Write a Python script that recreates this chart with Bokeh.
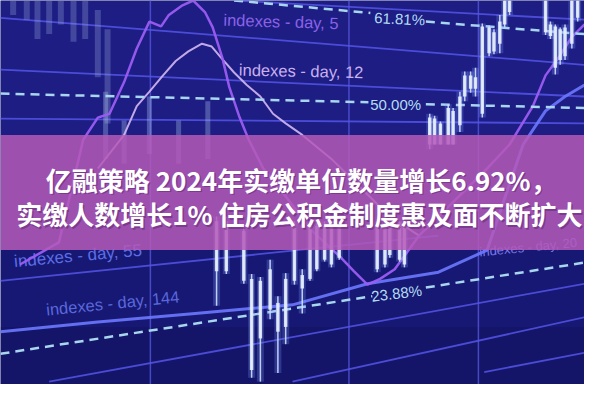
from bokeh.plotting import figure
from bokeh.models import Range1d
from bokeh.core.properties import value
from bokeh.embed import file_html
from bokeh.resources import INLINE

# ---------------- data (chart units: x 0..600, y 0..400 downward) ----------------
title_lines = ["亿融策略 2024年实缴单位数量增长6.92%，",
               "实缴人数增长1% 住房公积金制度惠及面不断扩大"]
title_x = [309, 307]
title_y = [186, 222]

# bright candles
c_x = [441, 446, 452, 460, 465, 472, 477, 483, 488, 495, 502, 507, 513, 518, 523,
       560, 565, 570, 575, 580, 587, 593,
       222, 232, 250, 258, 267, 277, 285, 293, 302, 310, 318, 325, 333, 340, 348,
       387, 395, 400, 410, 415]
c_body_top = [122, 123, 128, 112, 115, 100, 78, 78, 80, 27, 28, 33, 22, 0, 0,
              0, 25, 27, 30, 28, 0, 0,
              230, 230, 240, 290, 292, 280, 315, 290, 235, 286, 235, 235, 235, 235, 235,
              235, 235, 235, 235, 235]
c_body_bot = [150, 150, 150, 150, 150, 130, 100, 92, 92, 118, 55, 53, 45, 25, 12,
              33, 37, 70, 62, 58, 45, 18,
              282, 282, 292, 385, 352, 322, 345, 340, 292, 300, 290, 280, 270, 275, 268,
              280, 275, 265, 270, 275]
c_wick_top = [118, 120, 126, 108, 112, 95, 74, 74, 70, 24, 26, 30, 15, 0, 0,
              0, 22, 25, 28, 25, 0, 0,
              225, 225, 235, 285, 288, 270, 308, 284, 230, 280, 230, 232, 230, 230, 230,
              230, 230, 230, 230, 230]
c_wick_bot = [155, 150, 150, 150, 150, 137, 105, 96, 100, 122, 58, 56, 55, 28, 15,
              36, 40, 77, 67, 62, 50, 22,
              318, 285, 295, 393, 397, 332, 388, 358, 296, 326, 292, 282, 272, 278, 270,
              283, 278, 268, 272, 278]

# dim candles (left)
d_x = [108, 127, 153, 183, 213]
d_top = [95, 125, 100, 125, 105]
d_bot = [165, 170, 160, 170, 165]

# faded candles (top left)
f_x = [13, 27, 38, 50, 62, 75, 87, 100, 110]
f_top = [0, 0, 0, 0, 0, 0, 0, 10, 30]
f_bot = [15, 20, 40, 35, 25, 43, 40, 80, 128]

# moving-average curves
ma5_x = [20, 60, 85, 100, 112, 127, 140, 153, 165, 173, 187, 198, 210, 218, 228, 235,
         245, 255, 270, 290, 320, 350, 363, 377, 390, 405, 430, 460, 500, 523, 547, 560,
         573, 587, 600]
ma5_y = [275, 252, 145, 122, 118, 85, 50, 22, 27, 15, 5, 0, 12, 28, 60, 90,
         120, 145, 175, 200, 240, 268, 282, 296, 290, 280, 245, 215, 175, 150, 110, 78,
         60, 38, 25]
ma12_x = [100, 127, 140, 153, 167, 180, 193, 207, 217, 227, 240, 253, 267, 280, 293,
          310, 340, 370, 400, 430]
ma12_y = [175, 140, 110, 95, 78, 63, 53, 45, 48, 60, 75, 88, 100, 118, 128,
          140, 165, 195, 225, 245]
ma55_x = [0, 100, 200, 300, 377, 450, 500, 520, 537, 560, 580, 600]
ma55_y = [345, 335, 326, 317, 295, 283, 260, 200, 150, 115, 100, 88]

# thin straight guide lines
g_x0 = [240, 0, 0, 0, 0, 50, 300, 497]
g_y0 = [0, 18, 72, 123, 292, 397, 397, 387]
g_x1 = [600, 600, 600, 600, 450, 600, 600, 600]
g_y1 = [20, 67, 100, 128, 245, 295, 330, 367]

# vertical grid
v_x = [154, 358, 491]

# fibonacci levels (dashed pieces) and labels
fib_x0 = [240, 437, 0, 437, 0, 437]
fib_y0 = [0, 22, 97, 108, 368, 299]
fib_x1 = [380, 600, 378, 600, 382, 600]
fib_y1 = [13, 35, 106, 112, 308, 273]
fib_labels = ["61.81%", "50.00%", "23.88%"]
fib_lx = [410, 406, 407]
fib_ly = [19, 108, 305]
fib_angle = [-0.05, 0.0, 0.12]

# index labels
idx_labels = ["indexes - day, 5", "indexes - day, 12", "indexes - day, 55",
              "indexes - day, 144", "indexes - day, 20"]
idx_x = [229, 245, 14, 47, 492]
idx_y = [20, 72, 272, 322, 262]
idx_angle = [-0.03, -0.02, 0.09, 0.1, 0.1]
idx_size = ["16.5px", "16.5px", "17px", "16.5px", "13px"]
idx_color = ["#8a62e6", "#c9b0ee", "#5c6ee6", "#5a68dd", "#7a78ea"]

# ---------------- figure ----------------
p = figure(width=584, height=384, x_range=Range1d(0, 600), y_range=Range1d(400, 0),
           toolbar_location=None, output_backend="svg", min_border=0,
           background_fill_color="#171873", border_fill_color="#171873")
p.axis.visible = False
p.grid.visible = False
p.outline_line_color = None

# soft shading
p.quad(left=[0], right=[600], top=[0], bottom=[140], fill_color="#2828a4", fill_alpha=0.35, line_color=None)
p.quad(left=[0], right=[600], top=[340], bottom=[400], fill_color="#0c0c4c", fill_alpha=0.25, line_color=None)

# vertical grid lines
p.segment(x0=v_x, y0=[0] * len(v_x), x1=v_x, y1=[400] * len(v_x),
          line_color="#5a5ae0", line_width=1.5, line_alpha=0.75)
# guide lines
p.segment(x0=g_x0, y0=g_y0, x1=g_x1, y1=g_y1, line_color="#5555e6", line_width=1.8, line_alpha=0.85)

# faded candles
p.segment(x0=f_x, y0=f_top, x1=f_x, y1=f_bot, line_color="#9aa8dc", line_width=6, line_alpha=0.3)

# dim candles
p.segment(x0=d_x, y0=d_top, x1=d_x, y1=d_bot, line_color="#a8c0e8", line_width=5, line_alpha=0.35)

# index labels
for t, x, y, a, s, c in zip(idx_labels, idx_x, idx_y, idx_angle, idx_size, idx_color):
    p.text(x=[x], y=[y], text=[t], angle=a, text_color=c, text_font=value("Liberation Sans"),
           text_font_size=s, text_baseline="middle", text_align="left")

# MA curves
p.line(ma55_x, ma55_y, line_color="#6c78ff", line_width=3, line_alpha=0.9)
p.line(ma12_x, ma12_y, line_color="#d4b8f2", line_width=2, line_alpha=0.9)
p.line(ma5_x, ma5_y, line_color="#9c5cf2", line_width=2.5, line_alpha=0.95)

# fib dashed lines and labels
p.segment(x0=fib_x0, y0=fib_y0, x1=fib_x1, y1=fib_y1, line_color="#a8d6ee",
          line_width=2.5, line_dash="9 6")
p.text(x=fib_lx, y=fib_ly, text=fib_labels, angle=fib_angle, text_color="#b4dcf2",
       text_font=value("Liberation Sans"), text_font_size="15px",
       text_align="center", text_baseline="middle")

# bright candles: glow + wick + body
p.segment(x0=c_x, y0=c_wick_top, x1=c_x, y1=c_wick_bot, line_color="#7f9cff", line_width=7, line_alpha=0.25)
p.segment(x0=c_x, y0=c_wick_top, x1=c_x, y1=c_wick_bot, line_color="#cfe0ff", line_width=1.5, line_alpha=0.9)
p.quad(left=[x - 1.8 for x in c_x], right=[x + 1.8 for x in c_x], top=c_body_top, bottom=c_body_bot,
       fill_color="#e4eeff", fill_alpha=0.9, line_color=None)

# purple band
p.quad(left=[0], right=[600], top=[140], bottom=[260], fill_color="#b55ab9", fill_alpha=0.86, line_color=None)

# title
p.text(x=[v + 1.5 for v in title_x], y=[v + 1.5 for v in title_y], text=title_lines,
       text_color="#3a1050", text_alpha=0.35,
       text_font=value("Noto Sans CJK SC"), text_font_style="bold", text_font_size="26px",
       text_align="center", text_baseline="middle")
p.text(x=title_x, y=title_y, text=title_lines, text_color="white",
       text_font=value("Noto Sans CJK SC"), text_font_style="bold", text_font_size="26px",
       text_align="center", text_baseline="middle")

open("out.html", "w").write(file_html(p, INLINE))
